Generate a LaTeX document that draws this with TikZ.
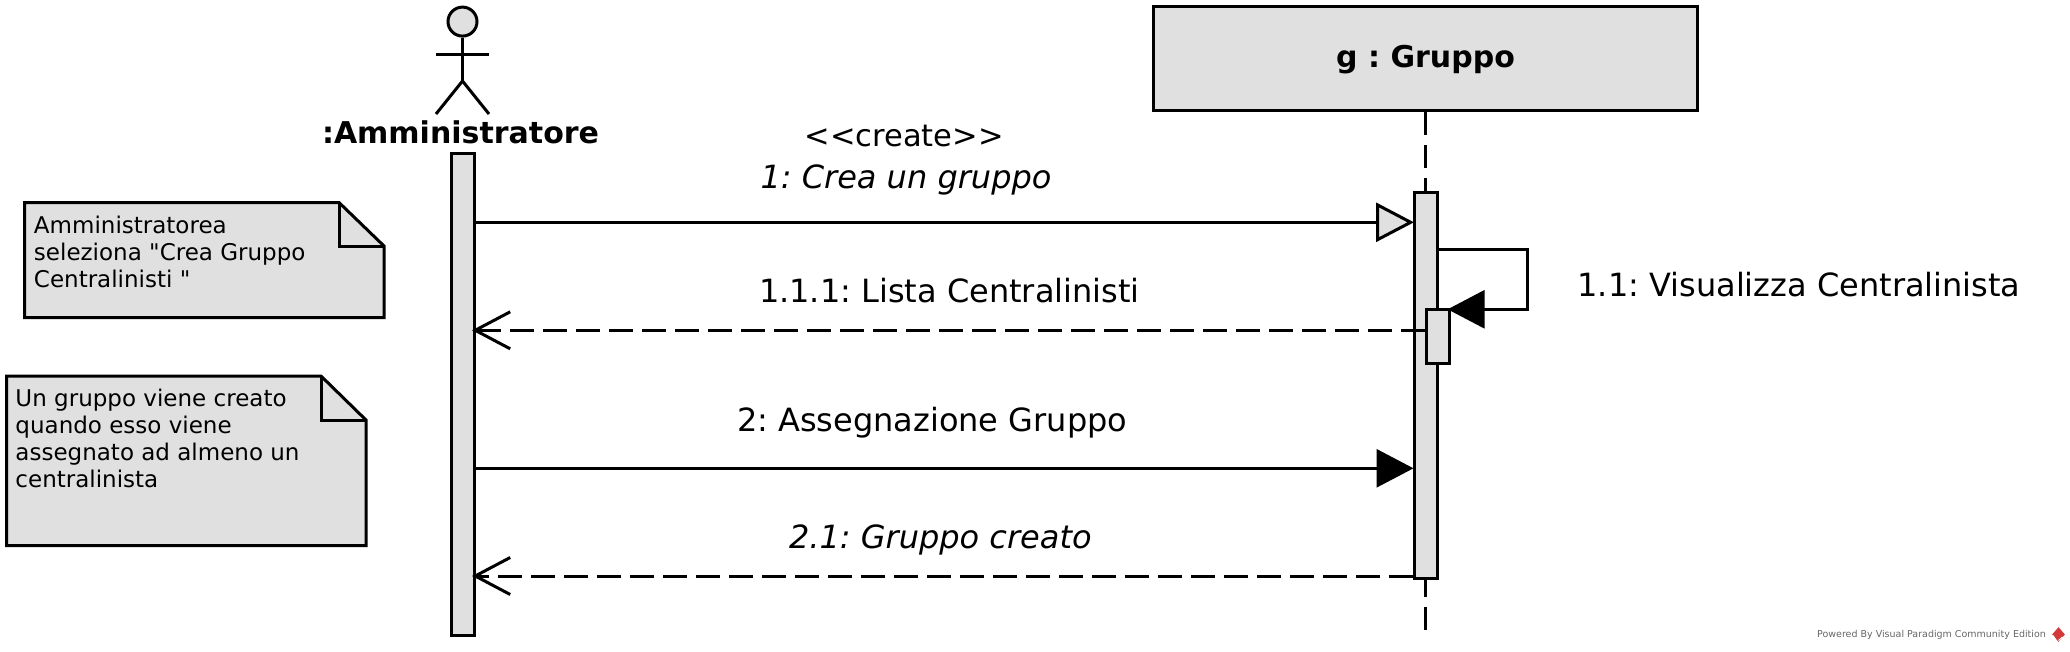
\documentclass[tikz,border=0pt]{standalone}
\usepackage{fontspec}
\setmainfont[Ligatures=TeXOff]{DejaVu Sans}
\usetikzlibrary{arrows.meta}
\usetikzlibrary{shapes.geometric}
\definecolor{vpgrigio}{HTML}{E0E0E0}
\definecolor{vprosso}{HTML}{D23A3A}

\begin{document}
\frenchspacing
\begin{tikzpicture}[
        x=1pt, y=-1pt,
        line width=3pt,
        etichetta/.style={inner sep=0pt, anchor=base west, font=\fontsize{32}{38}\selectfont},
        corsivo/.style={etichetta, font=\fontsize{32}{38}\selectfont\itshape},
        grassetto/.style={inner sep=0pt, anchor=base, font=\fontsize{30}{36}\selectfont\bfseries},
        testonota/.style={inner sep=0pt, anchor=base west, align=left, font=\fontsize{23}{27}\selectfont},
        nota/.style={draw, fill=vpgrigio, line join=miter},
        attivazione/.style={draw, fill=vpgrigio, rectangle, inner sep=0pt, minimum width=23pt},
        messaggio/.style={-{Triangle[length=37pt, width=38pt]}, shorten >=-1pt},
        creazione/.style={-{Triangle[length=38pt, width=39pt, fill=vpgrigio]}, shorten >=-1.5pt},
        ritorno/.style={dash pattern=on 24pt off 9pt, -{Straight Barb[length=35pt, width=37pt]}, shorten >=-4pt}
    ]
        % --- Parametri del disegno ---
        \def\xAtt{463} % Linea di vita dell'attore
        \def\xGru{1425.5} % Linea di vita del gruppo
        \def\yCrea{222.3} % Messaggio 1
        \def\yLista{330.3} % Messaggio 1.1.1
        \def\yAsse{468.3} % Messaggio 2
        \def\yFine{576} % Messaggio 2.1

        % --- Cornice della pagina ---
        \useasboundingbox (0,0) rectangle (2070,651);

        % --- Attore ---
        \node[draw, fill=vpgrigio, circle, inner sep=0pt, minimum size=29pt] (testa) at (462.5, 21.6) {};
        \coordinate (bacino) at (462.5, 81);
        \coordinate (piedeS) at (436, 114);
        \coordinate (piedeD) at (489, 114);
        \draw (testa.south) -- (bacino);
        \draw (436, 54) -- (489, 54);
        \draw (piedeS) -- (bacino) -- (piedeD);
        \node[grassetto] (attore) at (460.5, 143) {:Amministratore};

        % --- Gruppo e linee di vita ---
        \node[draw, fill=vpgrigio, rectangle, inner sep=0pt, minimum width=544.5pt, minimum height=104pt] (gruppo) at (\xGru, 58.5) {};
        \node[grassetto] (nomeGruppo) at (\xGru, 67) {g : Gruppo};
        \coordinate (fineVita) at (\xGru, 630);
        \draw[dash pattern=on 23pt off 10pt] (gruppo.south) -- (fineVita);

        % --- Attivazioni ---
        \node[attivazione, minimum height=482pt] (attA) at (\xAtt, 394) {};
        \node[attivazione, minimum height=386pt] (attG) at (\xGru, 385.5) {};
        \node[attivazione, minimum height=54pt] (attP) at (1437.6, 336.3) {};

        % --- Messaggi ---
        \draw[creazione] (attA.east |- 0,\yCrea) -- (attG.west |- 0,\yCrea);
        \draw[ritorno] (attP.west |- 0,\yLista) -- (attA.east |- 0,\yLista);
        \draw[messaggio] (attA.east |- 0,\yAsse) -- (attG.west |- 0,\yAsse);
        \draw[ritorno] (attG.west |- 0,\yFine) -- (attA.east |- 0,\yFine);
        % Messaggio riflessivo 1.1
        \draw[messaggio, shorten >=-3pt] (attG.east |- 0,249.3) -- (1527.4, 249.3) -- (1527.4, 309.3) -- (attP.east |- 0,309.3);

        % --- Etichette dei messaggi ---
        \node[etichetta, font=\fontsize{30.5}{38}\selectfont] (stereotipo) at (803, 146) {<<create>>};
        \node[corsivo] (msgCrea) at (759, 188) {1: Crea un gruppo};
        \node[etichetta] (msgLista) at (757.5, 302) {1.1.1: Lista Centralinisti};
        \node[etichetta] (msgAsse) at (735.5, 431) {2: Assegnazione Gruppo};
        \node[corsivo] (msgFine) at (787.5, 548) {2.1: Gruppo creato};
        \node[etichetta] (msgVis) at (1576, 296.7) {1.1: Visualizza Centralinista};

        % --- Note ---
        \draw[nota] (24.5,202.5) -- (339,202.5) -- (384,246) -- (384,317.5) -- (24.5,317.5) -- cycle;
        \draw (339,202.5) -- (339,246) -- (384,246);
        \node[testonota] (nota1) at (32.5, 287) {Amministratorea\\seleziona "Crea Gruppo\\Centralinisti "};
        \draw[nota] (6.5,376) -- (321,376) -- (366,420) -- (366,545.5) -- (6.5,545.5) -- cycle;
        \draw (321,376) -- (321,420) -- (366,420);
        \node[testonota] (nota2) at (14, 487.6) {Un gruppo viene creato\\quando esso viene\\assegnato ad almeno un\\centralinista};

        % --- Filigrana ---
        \node[inner sep=0pt, anchor=base west, text=black!60, font=\fontsize{9.5}{12}\selectfont] (filigrana) at (1815.7, 637) {Powered By Visual Paradigm Community Edition};
        \node[diamond, fill=vprosso, inner sep=0pt, minimum width=14pt, minimum height=16pt] (logo) at (2058.5, 634.5) {};
        \draw[white, line width=1pt] (logo.west) ++(3,1) -- (logo.south) ++(0,-3.5) -- ++(4,-3.5);
    \end{tikzpicture}
\end{document}
